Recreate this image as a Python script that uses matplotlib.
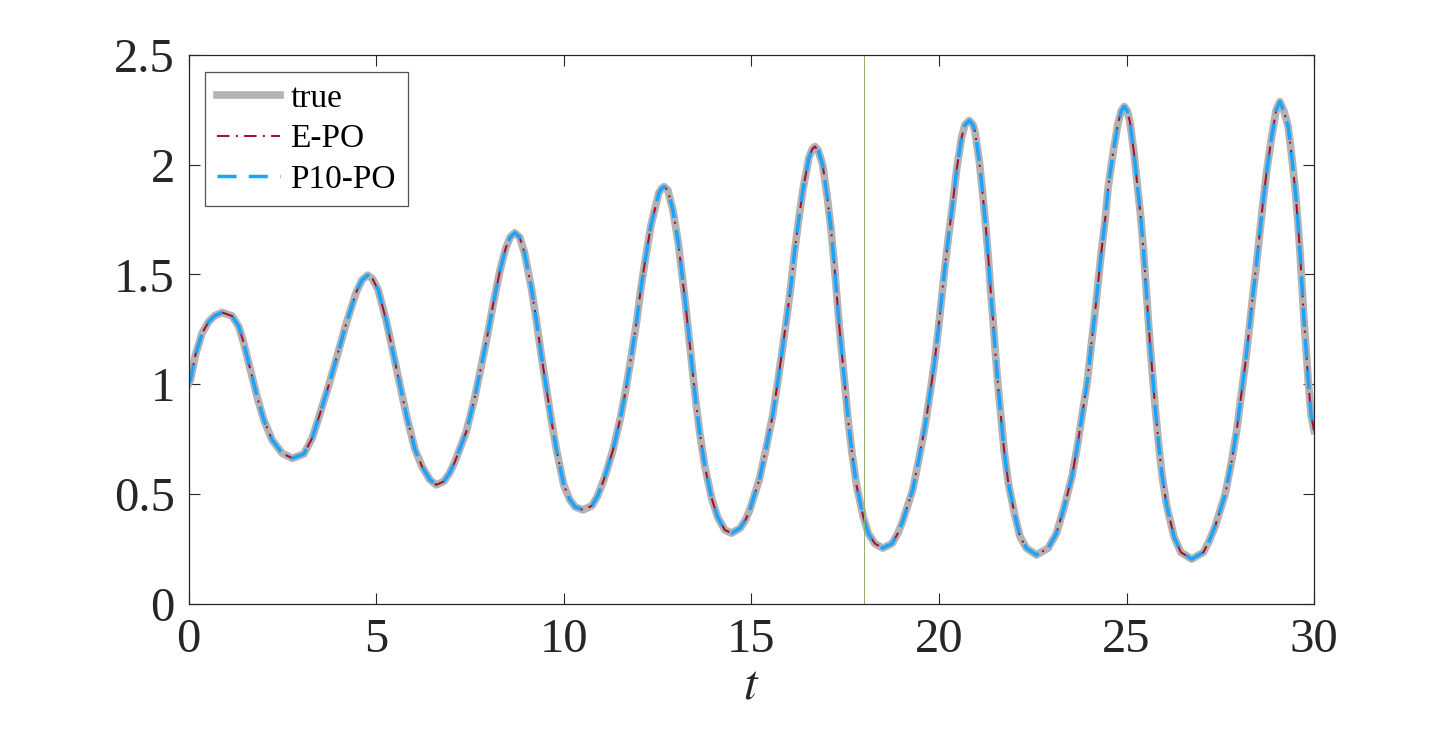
import matplotlib
matplotlib.use("Agg")
import matplotlib.pyplot as plt

# values (t, x)
t = [0.0, 0.044, 0.178, 0.356, 0.533, 0.70, 0.89, 1.155, 1.333, 1.467, 1.644, 1.82, 2.0, 2.22, 2.49, 2.76,
     3.07, 3.29, 3.45, 3.74, 3.96, 4.20, 4.47, 4.62, 4.77, 4.90,
     5.05, 5.27, 5.45, 5.63, 5.81, 6.03, 6.22, 6.43, 6.60, 6.80, 6.95,
     7.09, 7.40, 7.61, 7.79, 7.96, 8.12, 8.29, 8.45, 8.57, 8.69, 8.82, 8.95,
     9.14, 9.27, 9.39, 9.52, 9.65, 9.80, 10.0, 10.16, 10.30, 10.51, 10.75, 10.90,
     11.07, 11.31, 11.51, 11.67, 11.81, 11.94, 12.05, 12.18, 12.32, 12.53, 12.60, 12.67, 12.77,
     12.91, 13.05, 13.15, 13.25, 13.34, 13.43, 13.52, 13.63, 13.76, 13.94, 14.10, 14.29, 14.47, 14.70, 14.85,
     14.96, 15.22, 15.40, 15.57, 15.70, 15.82, 15.94, 16.05, 16.14, 16.25, 16.37, 16.53, 16.62, 16.69, 16.78,
     16.90, 17.02, 17.12, 17.20, 17.27, 17.34, 17.42, 17.50, 17.58, 17.68, 17.80, 17.98, 18.12, 18.29, 18.50,
     18.75, 18.90,
     19.03, 19.30, 19.47, 19.63, 19.76, 19.88, 19.98, 20.07, 20.16, 20.26, 20.37, 20.47, 20.60, 20.69, 20.81,
     20.91, 20.96, 21.08, 21.17, 21.25, 21.32, 21.38, 21.45, 21.51, 21.58, 21.66, 21.74, 21.85, 22.03, 22.16,
     22.33, 22.60, 22.91, 23.13,
     23.33, 23.55, 23.70, 23.83, 23.96, 24.05, 24.15, 24.24, 24.33, 24.43, 24.51, 24.63, 24.77, 24.86, 24.94,
     25.02, 25.09, 25.20, 25.29, 25.38, 25.45, 25.51, 25.57, 25.63, 25.70, 25.77, 25.85, 25.94, 26.07, 26.27,
     26.45, 26.74, 27.05, 27.20,
     27.36, 27.63, 27.80, 27.94, 28.05, 28.16, 28.26, 28.35, 28.45, 28.54, 28.63, 28.73, 28.85, 28.99, 29.09,
     29.20, 29.31, 29.41, 29.50, 29.57, 29.63, 29.68, 29.73, 29.79, 29.85, 29.92, 30.0]
x_true = [1.005, 1.020, 1.134, 1.233, 1.286, 1.313, 1.327, 1.311, 1.263, 1.187, 1.066, 0.944, 0.838, 0.747, 0.686, 0.663,
          0.683, 0.755, 0.840, 1.000, 1.132, 1.278, 1.422, 1.475, 1.497, 1.480,
          1.430, 1.286, 1.142, 0.997, 0.853, 0.704, 0.625, 0.565, 0.542, 0.558, 0.595,
          0.645, 0.785, 0.929, 1.076, 1.220, 1.369, 1.513, 1.620, 1.670, 1.690, 1.670, 1.600,
          1.433, 1.286, 1.142, 0.997, 0.853, 0.704, 0.540, 0.474, 0.442, 0.428, 0.447, 0.492,
          0.567, 0.701, 0.848, 0.994, 1.142, 1.286, 1.433, 1.577, 1.723, 1.870, 1.890, 1.900, 1.885,
          1.791, 1.645, 1.498, 1.354, 1.210, 1.062, 0.917, 0.770, 0.625, 0.481, 0.395, 0.337, 0.322, 0.345, 0.385,
          0.430, 0.572, 0.716, 0.861, 1.008, 1.152, 1.301, 1.445, 1.589, 1.736, 1.882, 2.030, 2.070, 2.083, 2.065,
          1.999, 1.855, 1.711, 1.563, 1.418, 1.270, 1.126, 0.982, 0.835, 0.689, 0.542, 0.398, 0.320, 0.275, 0.254,
          0.275, 0.320,
          0.375, 0.519, 0.663, 0.811, 0.955, 1.100, 1.245, 1.392, 1.536, 1.680, 1.828, 1.976, 2.121, 2.181, 2.201,
          2.181, 2.151, 2.010, 1.859, 1.714, 1.566, 1.422, 1.275, 1.129, 0.985, 0.838, 0.694, 0.550, 0.398, 0.307,
          0.254, 0.223, 0.254, 0.320,
          0.436, 0.583, 0.729, 0.876, 1.020, 1.164, 1.311, 1.457, 1.604, 1.749, 1.896, 2.041, 2.186, 2.245, 2.265,
          2.245, 2.196, 2.052, 1.905, 1.759, 1.615, 1.468, 1.324, 1.176, 1.031, 0.883, 0.739, 0.595, 0.448, 0.304,
          0.235, 0.204, 0.235, 0.285,
          0.352, 0.499, 0.648, 0.792, 0.941, 1.084, 1.233, 1.377, 1.524, 1.670, 1.814, 1.961, 2.105, 2.250, 2.287,
          2.242, 2.174, 2.030, 1.882, 1.736, 1.589, 1.445, 1.298, 1.152, 1.005, 0.861, 0.790]
# both estimates sit on top of the true curve
x_epo = list(x_true)
x_p10 = list(x_true)

t_split = 18
xticks = [0, 5, 10, 15, 20, 25, 30]
yticks = [0, 0.5, 1, 1.5, 2, 2.5]
yticklabels = ["0", "0.5", "1", "1.5", "2", "2.5"]

plt.rcParams["font.family"] = ["Liberation Serif", "DejaVu Serif"]
plt.rcParams["mathtext.fontset"] = "stix"

fig = plt.figure(figsize=(14.52, 7.32), dpi=100)
ax = fig.add_axes([0.130, 0.175, 0.775, 0.750])

ax.plot(t, x_true, color="#b3b3b3", lw=5.5, label="true", solid_joinstyle="round")
ax.plot(t, x_epo, color="#a2142f", lw=1.5, dashes=(6, 3, 1, 3), label="E-PO")
ax.plot(t, x_p10, color="#1aa3ff", lw=2.5, dashes=(5.5, 3.5), label="P10-PO")
ax.axvline(t_split, color="#8fae6f", lw=0.7)

ax.set_xlim(0, 30)
ax.set_ylim(0, 2.5)
ax.set_xticks(xticks)
ax.set_yticks(yticks)
ax.set_yticklabels(yticklabels)
ax.tick_params(direction="in", length=8, width=0.8, top=True, right=True,
               labelsize=35, colors="#262626", pad=10)
for s in ax.spines.values():
    s.set_linewidth(0.9)
    s.set_color("#262626")
ax.set_xlabel(r"$t$", fontsize=35, color="#262626", labelpad=2)

leg = ax.legend(loc="upper left", fontsize=24, frameon=True, fancybox=False,
                edgecolor="#262626", borderaxespad=0.5, handlelength=1.9,
                handletextpad=0.3, borderpad=0.35, labelspacing=0.3)
leg.get_frame().set_linewidth(0.9)

fig.savefig("out.png", dpi=100)
